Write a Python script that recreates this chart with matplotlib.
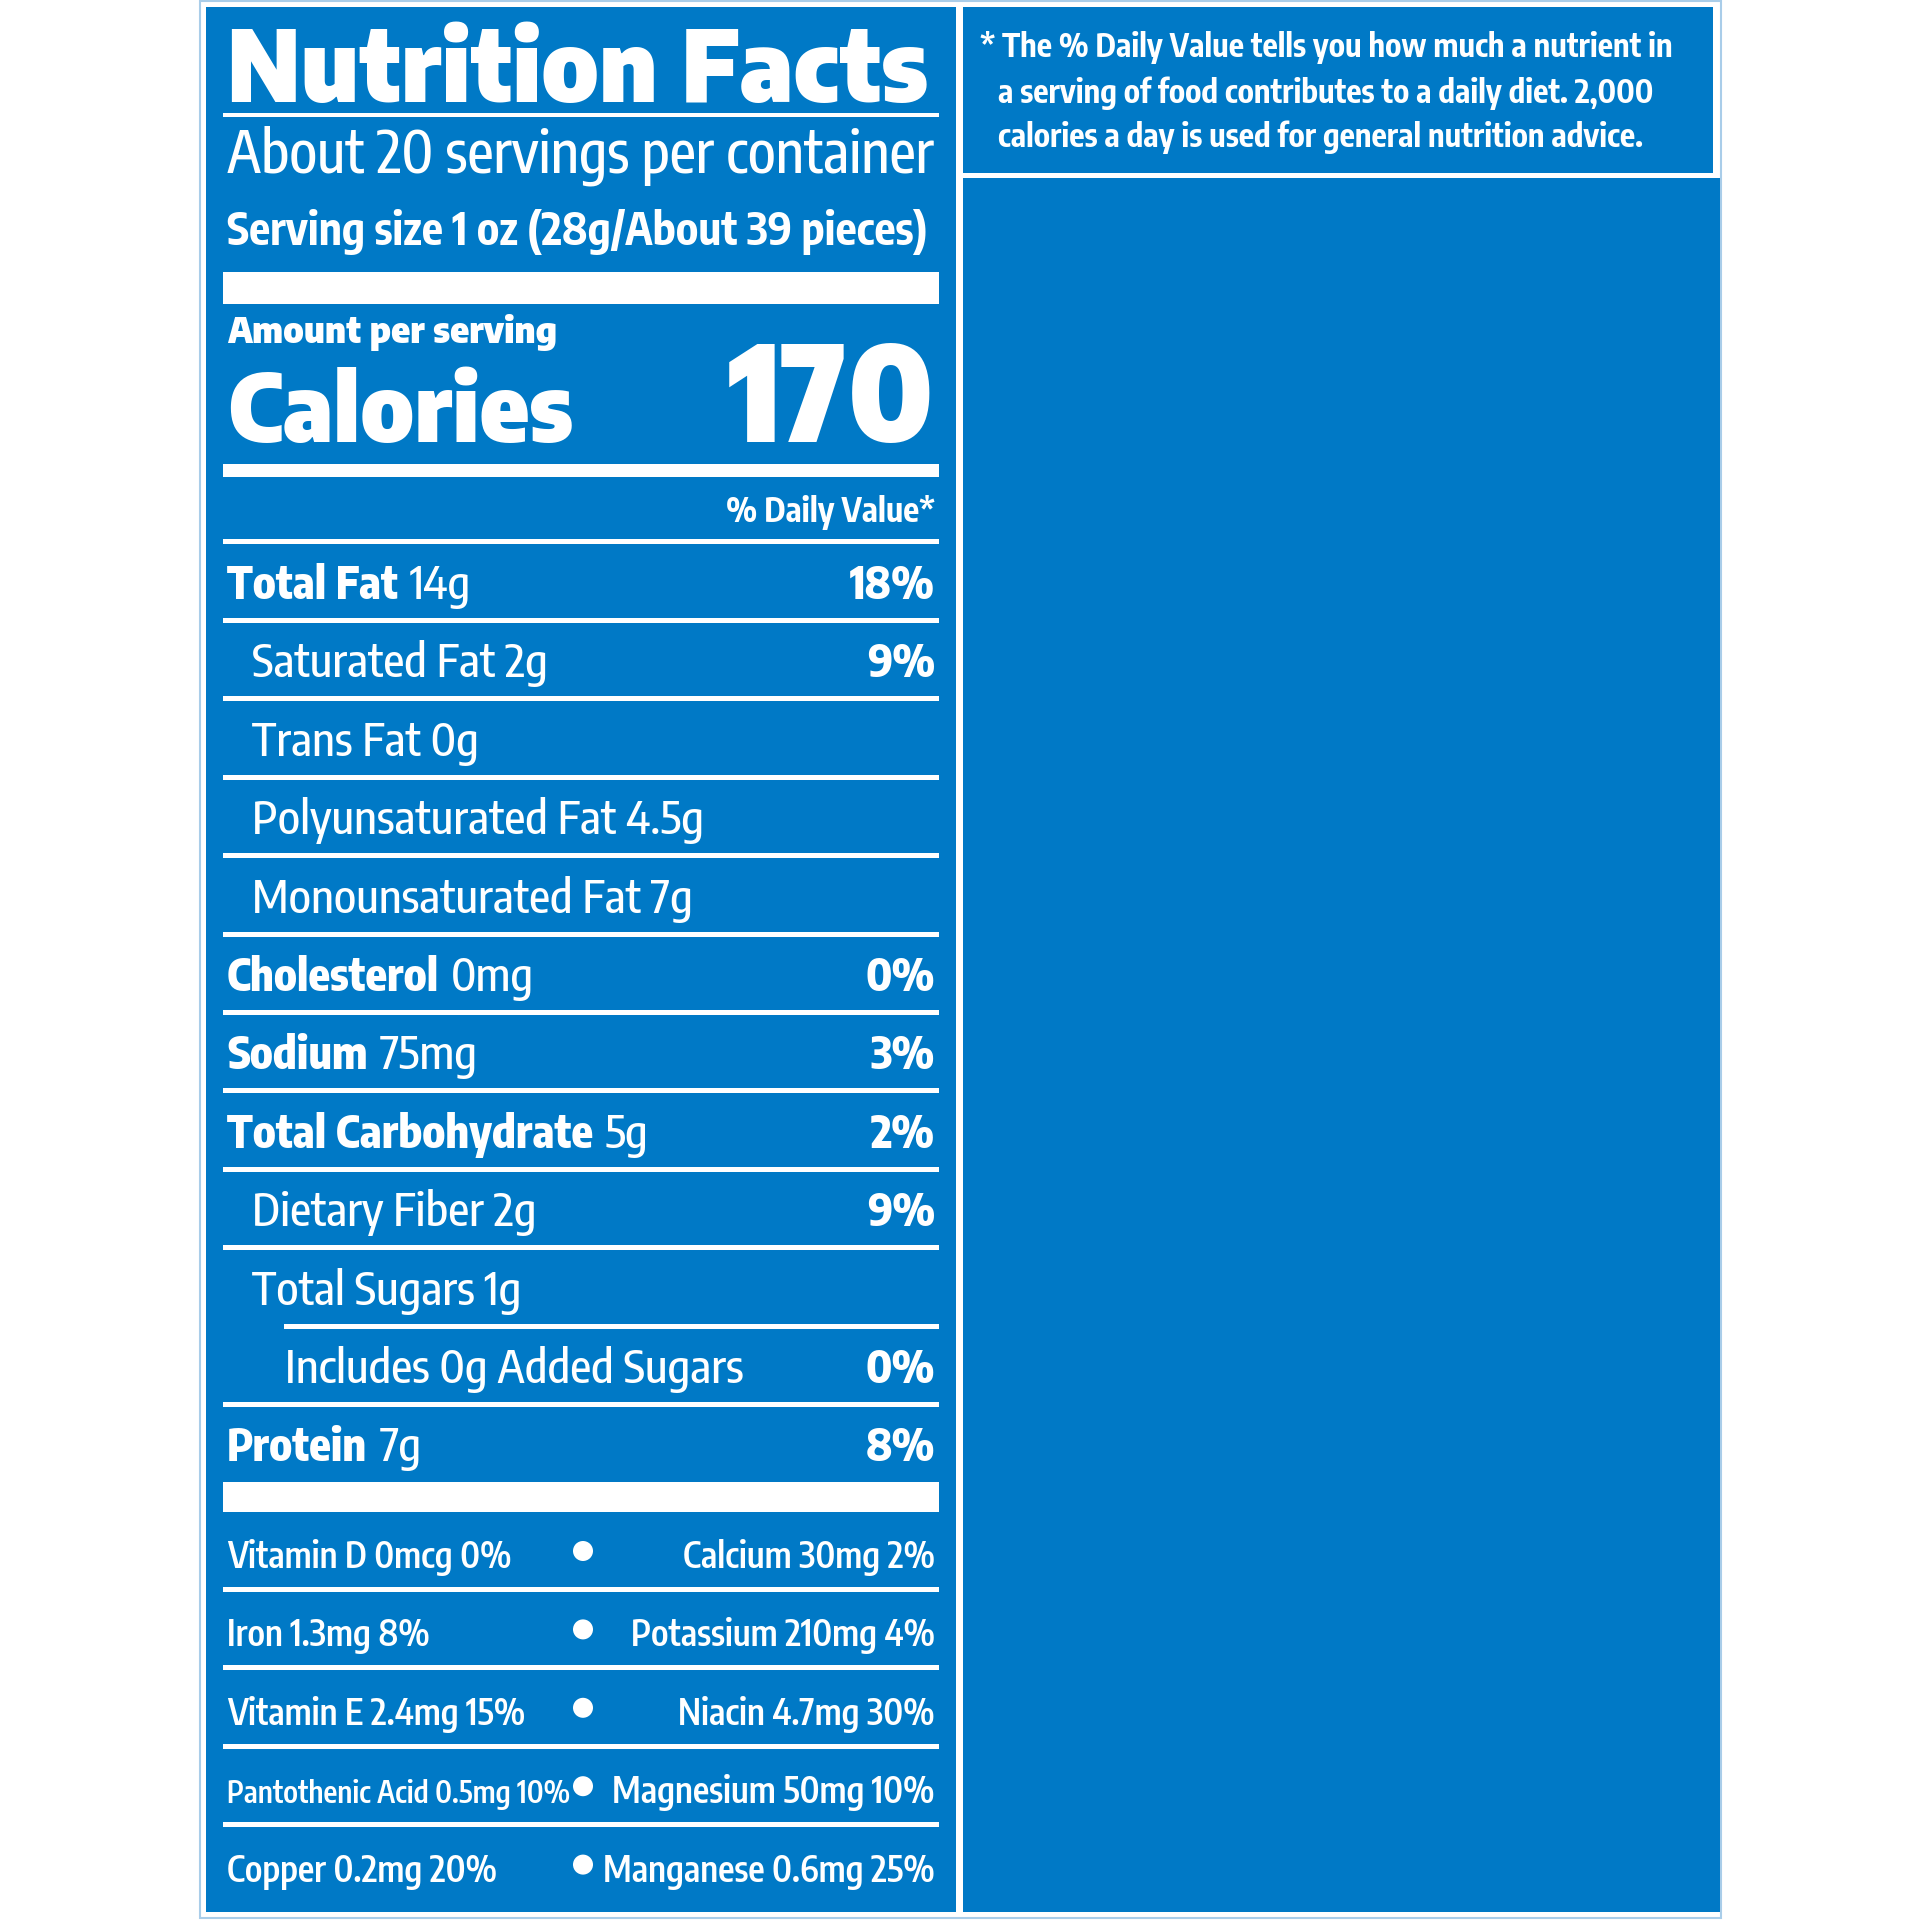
import matplotlib
matplotlib.use("Agg")
import numpy as np
import matplotlib.pyplot as plt
from matplotlib import font_manager as fm
from matplotlib.font_manager import FontProperties
from matplotlib.textpath import TextPath
from matplotlib.patches import Rectangle, Circle

# ---------------- data ----------------
title = "Nutrition Facts"
servings_text = "About 20 servings per container"
serving_size_text = "Serving size 1 oz (28g/About 39 pieces)"
amount_label = "Amount per serving"
calories_label = "Calories"
calories_value = "170"
dv_header = "% Daily Value*"

nutrient_names = ["Total Fat", "Saturated Fat", "Trans Fat", "Polyunsaturated Fat",
                  "Monounsaturated Fat", "Cholesterol", "Sodium", "Total Carbohydrate",
                  "Dietary Fiber", "Total Sugars", "Includes", "Protein"]
nutrient_amounts = ["14g", "2g", "0g", "4.5g", "7g", "0mg", "75mg", "5g", "2g", "1g",
                    "0g Added Sugars", "7g"]
nutrient_dv = ["18%", "9%", "", "", "", "0%", "3%", "2%", "9%", "", "0%", "8%"]
nutrient_level = [0, 1, 1, 1, 1, 0, 0, 0, 1, 1, 2, 0]

vitamins_left = ["Vitamin D 0mcg 0%", "Iron 1.3mg 8%", "Vitamin E 2.4mg 15%",
                 "Pantothenic Acid 0.5mg 10%", "Copper 0.2mg 20%"]
vitamins_right = ["Calcium 30mg 2%", "Potassium 210mg 4%", "Niacin 4.7mg 30%",
                  "Magnesium 50mg 10%", "Manganese 0.6mg 25%"]

footnote_lines = ["* The % Daily Value tells you how much a nutrient in",
                  "a serving of food contributes to a daily diet. 2,000",
                  "calories a day is used for general nutrition advice."]

# ---------------- style ----------------
BLUE = "#0079C6"
LIGHT = "#A9CDE9"
WHITE = "white"

fig = plt.figure(figsize=(19.2, 19.2), dpi=100)
ax = fig.add_axes([0, 0, 1, 1])
ax.set_xlim(0, 1920)
ax.set_ylim(1920, 0)
ax.axis("off")
R = fig.canvas.get_renderer()


def _w(v):
    if isinstance(v, str):
        return fm.weight_dict.get(v, 400)
    return int(v)


def weights_of(fam):
    return {_w(f.weight) for f in fm.fontManager.ttflist
            if f.name == fam and f.style == "normal"}


def has(fam, w):
    return any(abs(x - w) <= 50 for x in weights_of(fam))


def shape_ratio(s, fp):
    e = TextPath((0, 0), s, size=100, prop=fp).get_extents()
    h = TextPath((0, 0), "H", size=100, prop=fp).get_extents().height
    return e.width / h


def choose(families, samples, fallback):
    """samples: list of (weight, text, target width/cap-height ratio)"""
    best, err_best = None, 1e9
    for fam in families:
        if not all(has(fam, w) for w, _, _ in samples):
            continue
        try:
            err = sum(np.log(shape_ratio(s, FontProperties(family=fam, weight=w)) / r) ** 2
                      for w, s, r in samples)
        except Exception:
            continue
        if err < err_best:
            best, err_best = fam, err
    return best if best else fallback


def weight_or(fam, wanted, fallback):
    return wanted if has(fam, wanted) else fallback


# heading face (Helvetica Black look-alike)
head_fams = ["Roboto", "Archivo Black", "Inter", "Barlow", "Barlow Semi Condensed",
             "Barlow Condensed", "Fira Sans", "Fira Sans Condensed", "Asap Condensed",
             "Encode Sans Semi Condensed", "Encode Sans Condensed", "Sofia Sans Semi Condensed"]
HEAD_FAM = choose(head_fams, [(900, "Nutrition Facts", 701 / 75), (900, "Calories", 346 / 76),
                              (900, "170", 207 / 101)], "DejaVu Sans")
FP_HEAD = FontProperties(family=HEAD_FAM, weight=900)

# body face (Helvetica Condensed look-alike, grotesque shapes only)
body_fams = ["Pragati Narrow", "Roboto Condensed", "Encode Sans Condensed",
             "Encode Sans Semi Condensed", "Sofia Sans Condensed", "Sofia Sans Semi Condensed",
             "IBM Plex Sans Condensed"]
BODY_FAM = choose(body_fams, [
    (400, servings_text, 707 / 45), (400, "Saturated Fat 2g", 298 / 33),
    (400, "Monounsaturated Fat 7g", 437 / 33), (400, "Polyunsaturated Fat 4.5g", 447 / 33),
    (700, serving_size_text, 700 / 45), (700, "Total Carbohydrate", 366 / 34),
    (700, "Cholesterol", 216 / 34), (700, "Total Fat", 167 / 34)], "DejaVu Sans")
FP_REG = FontProperties(family=BODY_FAM, weight=weight_or(BODY_FAM, 500, 400))
FP_BOLD = FontProperties(family=BODY_FAM, weight=weight_or(BODY_FAM, 800, 700))
FP_SEMI = FontProperties(family=BODY_FAM, weight=700)
FP_VIT = FontProperties(family=BODY_FAM, weight=weight_or(BODY_FAM, 600, 400))


def sized(fp, size):
    f = fp.copy()
    f.set_size(size)
    return f


def width_px(s, fp, size=100):
    t = ax.text(0, 0, s, fontproperties=sized(fp, size))
    w = t.get_window_extent(R).width
    t.remove()
    return w


def fit(s, fp, W):
    size = 100 * W / width_px(s, fp, 100)
    size = size * W / width_px(s, fp, size)
    return size


def draw(s, x, y, fp, size, ha="left"):
    return ax.text(x, y, s, fontproperties=sized(fp, size), ha=ha, va="baseline",
                   color=WHITE, zorder=5)


def hbar(x0, x1, y0, y1, color=WHITE):
    ax.add_patch(Rectangle((x0, y0), x1 - x0, y1 - y0, facecolor=color,
                           edgecolor="none", zorder=3))


# ---------------- panels ----------------
ax.add_patch(Rectangle((200, 1), 1521, 1917, facecolor="white", edgecolor=LIGHT,
                       linewidth=1.5, zorder=1))
ax.add_patch(Rectangle((206, 7), 750, 1905, facecolor=BLUE, edgecolor="none", zorder=2))
ax.add_patch(Rectangle((963, 7), 750, 166, facecolor=BLUE, edgecolor="none", zorder=2))
ax.add_patch(Rectangle((963, 178), 757, 1734, facecolor=BLUE, edgecolor="none", zorder=2))

XL, XR = 227, 935          # text margins
LX0, LX1 = 223, 939        # rule extents

# ---------------- header ----------------
draw(title, XL, 102, FP_HEAD, fit(title, FP_HEAD, 701))
hbar(LX0, LX1, 113, 117)
draw(servings_text, XL, 173, FP_REG, fit(servings_text, FP_REG, 707))
draw(serving_size_text, XL, 245, FP_SEMI, fit(serving_size_text, FP_SEMI, 700))
hbar(LX0, LX1, 272, 304)

draw(amount_label, XL, 343, FP_HEAD, fit(amount_label, FP_HEAD, 330))
draw(calories_label, XL, 442, FP_HEAD, fit(calories_label, FP_HEAD, 346))
draw(calories_value, XR, 442, FP_HEAD, fit(calories_value, FP_HEAD, 207), ha="right")
hbar(LX0, LX1, 464, 477)

draw(dv_header, XR, 522, FP_SEMI, fit(dv_header, FP_SEMI, 209), ha="right")
hbar(LX0, LX1, 539, 544)

# ---------------- nutrient rows ----------------
STEP = 78.4
ROW0_BASE = 599
ROW0_LINE = 620.5
INDENT = [XL, 252, 285]

reg_cal = [("Monounsaturated Fat 7g", 437), ("Saturated Fat 2g", 298),
           ("Polyunsaturated Fat 4.5g", 447), ("Includes 0g Added Sugars", 468)]
bold_cal = [("Total Carbohydrate", 366), ("Cholesterol", 216), ("Total Fat", 167)]
S_REG = float(np.median([fit(s, FP_REG, w) for s, w in reg_cal]))
S_BOLD = float(np.median([fit(s, FP_BOLD, w) for s, w in bold_cal]))
space_w = width_px("a a", FP_REG, S_REG) - width_px("aa", FP_REG, S_REG)

for i, (name, amt, dv, lvl) in enumerate(zip(nutrient_names, nutrient_amounts,
                                             nutrient_dv, nutrient_level)):
    yb = ROW0_BASE + STEP * i
    x0 = INDENT[lvl]
    if lvl == 0:
        t = draw(name, x0, yb, FP_BOLD, S_BOLD)
        bb = t.get_window_extent(R)
        x_end = ax.transData.inverted().transform((bb.x1, bb.y0))[0]
        draw(amt, x_end + max(space_w * 1.05, 12), yb, FP_REG, S_REG)
    else:
        draw(f"{name} {amt}", x0, yb, FP_REG, S_REG)
    if dv:
        draw(dv, XR, yb, FP_BOLD, S_BOLD, ha="right")
    if i < len(nutrient_names) - 1:
        yl = ROW0_LINE + STEP * i
        start = INDENT[2] - 1 if nutrient_level[i + 1] == 2 else LX0
        hbar(start, LX1, yl - 2.5, yl + 2.5)

hbar(LX0, LX1, 1482, 1512)

# ---------------- vitamins / minerals ----------------
VIT0_BASE = 1568
VIT0_LINE = 1589.5
vit_cal = [("Manganese 0.6mg 25%", 322), ("Vitamin D 0mcg 0%", 283),
           ("Potassium 210mg 4%", 312), ("Copper 0.2mg 20%", 272)]
S_VIT = float(np.median([fit(s, FP_VIT, w) for s, w in vit_cal]))
BULLET_X = 583

for j, (lt, rt) in enumerate(zip(vitamins_left, vitamins_right)):
    yb = VIT0_BASE + STEP * j
    maxw = BULLET_X - 13 - XL
    s_l = S_VIT
    if width_px(lt, FP_VIT, S_VIT) > maxw:
        s_l = fit(lt, FP_VIT, maxw)
    draw(lt, XL, yb, FP_VIT, s_l)
    draw(rt, XR, yb, FP_VIT, S_VIT, ha="right")
    ax.add_patch(Circle((BULLET_X, yb - 17), 10, facecolor=WHITE, edgecolor="none", zorder=5))
    if j < len(vitamins_left) - 1:
        yl = VIT0_LINE + STEP * j
        hbar(LX0, LX1, yl - 2.5, yl + 2.5)

# ---------------- footnote ----------------
foot_x = [980, 998, 998]
foot_w = [683, 655, 656]
foot_base = [57, 103, 147]
S_FOOT = float(np.median([fit(s, FP_SEMI, w) for s, w in zip(footnote_lines, foot_w)]))
for s, x, y in zip(footnote_lines, foot_x, foot_base):
    draw(s, x, y, FP_SEMI, S_FOOT)

fig.savefig("out.png", dpi=100, facecolor="white")
